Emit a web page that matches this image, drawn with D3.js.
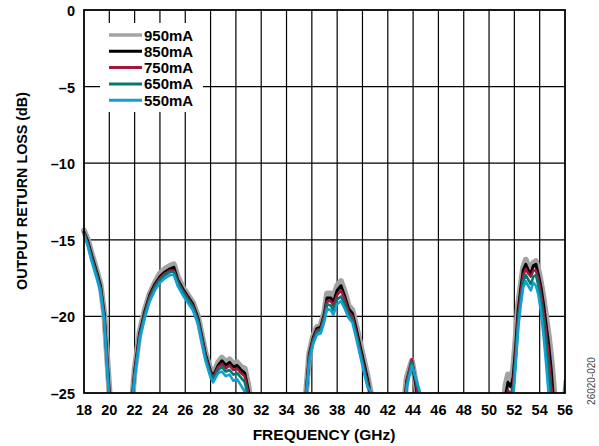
<!DOCTYPE html>
<html>
<head>
<meta charset="utf-8">
<script src="https://cdn.jsdelivr.net/npm/d3@7"></script>
<style>
  body { margin: 0; background: #fff; }
  svg text { font-family: Arial, "Liberation Sans", Helvetica, sans-serif; font-weight: bold; }
</style>
</head>
<body>
<div id="grafico"></div>
<script>
// dati (null = interruzione della curva)
const frequenze = [
  18, 18.3, 18.6, 19.0, 19.3, 19.6, 19.8, 20.0, 20.15, null,
  21.7, 22.0, 22.4, 22.8, 23.2, 23.6, 24.0, 24.4, 24.8, 25.1, 25.4, 25.8, 26.2, 26.6, 27.0, 27.3, 27.6, 28.0, 28.2, 28.6, 28.9, 29.2, 29.5, 29.8, 30.1, 30.4, 30.7, 31.0, 31.3, null,
  35.4, 35.8, 36.1, 36.4, 36.7, 37.0, 37.2, 37.5, 37.7, 38.0, 38.3, 38.6, 38.9, 39.2, 39.5, 39.8, 40.1, 40.4, 40.7, 41.0, null,
  43.2, 43.5, 43.9, 44.2, 44.5, 44.8, null,
  51.1, 51.3, 51.5, 51.7, 51.9, 52.1, 52.3, 52.5, 52.7, 52.9, 53.1, 53.3, 53.5, 53.7, 53.9, 54.1, 54.3, 54.5, 54.7, 54.9, 55.1, 55.3, null,
  55.6, 55.85, 56.0
];

const rl950 = [
  -14.4, -15.0, -15.9, -17.0, -17.9, -19.8, -22.3, -24.8, -26.5, null,
  -26.5, -23.5, -21.0, -19.6, -18.5, -17.8, -17.2, -16.9, -16.7, -16.6, -17.4, -18.1, -18.6, -19.1, -20.0, -21.2, -22.4, -23.5, -23.8, -23.0, -22.7, -23.0, -22.8, -23.1, -23.0, -23.3, -23.4, -24.6, -26.5, null,
  -26.5, -22.4, -21.3, -20.7, -20.6, -19.7, -18.5, -18.5, -18.8, -18.0, -17.7, -18.4, -19.3, -19.6, -20.6, -21.7, -22.8, -23.9, -25.2, -26.5, null,
  -26.5, -24.0, -22.9, -24.3, -26.0, -27.0, null,
  -26.5, -24.5, -23.8, -24.0, -23.5, -21.5, -19.2, -18.0, -16.8, -16.3, -16.7, -16.9, -16.5, -16.4, -17.0, -17.8, -18.8, -20.0, -21.2, -22.6, -24.5, -26.5, null,
  -27.0, -26.0, -25.3
];
const rl850 = [
  -14.5, -15.1, -16.0, -17.1, -18.0, -19.9, -22.5, -25.0, -26.5, null,
  -26.5, -23.6, -21.1, -19.7, -18.6, -17.9, -17.4, -17.1, -16.9, -16.8, -17.6, -18.2, -18.7, -19.2, -20.1, -21.3, -22.5, -23.6, -23.9, -23.2, -22.9, -23.2, -23.0, -23.3, -23.2, -23.5, -23.7, -24.9, -26.5, null,
  -26.5, -22.5, -21.4, -20.8, -20.7, -19.8, -18.8, -18.8, -19.1, -18.3, -18.0, -18.7, -19.5, -19.8, -20.8, -21.9, -23.0, -24.1, -25.4, -26.5, null,
  -27.0, -24.2, -23.0, -24.4, -26.0, -27.0, null,
  -27.0, -25.2, -24.3, -24.6, -24.0, -22.0, -19.6, -18.2, -17.0, -16.6, -17.0, -17.2, -16.7, -16.6, -17.3, -18.1, -19.2, -20.5, -21.8, -23.4, -25.5, -27.0, null,
  -27.0, -26.0, -25.5
];
const rl750 = [
  -14.5, -15.2, -16.1, -17.2, -18.1, -20.0, -22.6, -25.1, -26.5, null,
  -26.5, -23.7, -21.2, -19.8, -18.7, -18.0, -17.5, -17.2, -17.0, -17.0, -17.7, -18.3, -18.8, -19.3, -20.2, -21.4, -22.6, -23.7, -24.0, -23.3, -23.1, -23.4, -23.2, -23.5, -23.4, -23.7, -23.9, -25.1, -26.5, null,
  -26.5, -22.6, -21.5, -20.9, -20.8, -19.9, -19.0, -19.0, -19.3, -18.6, -18.3, -18.9, -19.7, -20.0, -21.0, -22.1, -23.2, -24.3, -25.6, -26.5, null,
  -27.0, -24.2, -22.8, -24.2, -25.8, -27.0, null,
  -27.0, -26.0, -24.8, -25.2, -24.5, -22.4, -20.0, -18.5, -17.3, -16.9, -17.2, -17.4, -17.0, -17.0, -17.6, -18.5, -19.7, -21.0, -22.5, -24.3, -26.5, -27.0, null,
  -27.0, -26.0, -25.6
];
const rl650 = [
  -14.6, -15.3, -16.2, -17.3, -18.2, -20.1, -22.8, -25.3, -26.5, null,
  -26.5, -23.8, -21.3, -19.9, -18.8, -18.1, -17.6, -17.3, -17.1, -17.1, -17.8, -18.4, -18.9, -19.4, -20.3, -21.5, -22.7, -23.8, -24.1, -23.5, -23.3, -23.6, -23.5, -23.8, -23.7, -24.0, -24.3, -25.4, -26.5, null,
  -26.5, -22.7, -21.6, -21.0, -20.9, -20.1, -19.2, -19.3, -19.6, -18.9, -18.7, -19.2, -19.9, -20.2, -21.2, -22.3, -23.4, -24.5, -25.0, -26.5, null,
  -27.0, -24.4, -23.0, -24.1, -25.0, -27.0, null,
  -27.0, -27.0, -25.5, -26.0, -25.0, -22.8, -20.3, -18.9, -17.7, -17.3, -17.6, -17.9, -17.4, -17.3, -18.0, -19.0, -20.3, -21.8, -23.5, -25.5, -27.0, -27.0, null,
  -27.0, -26.0, -25.4
];
const rl550 = [
  -14.7, -15.4, -16.4, -17.5, -18.4, -20.3, -23.0, -25.5, -26.5, null,
  -26.5, -24.0, -21.5, -20.1, -19.0, -18.3, -17.8, -17.5, -17.3, -17.3, -18.0, -18.6, -19.1, -19.6, -20.5, -21.7, -22.9, -24.0, -24.3, -23.7, -23.6, -23.9, -23.8, -24.2, -24.1, -24.5, -24.9, -26.0, -26.5, null,
  -26.5, -22.9, -21.8, -21.2, -21.1, -20.3, -19.5, -19.6, -19.9, -19.2, -19.0, -19.5, -20.1, -20.4, -21.4, -22.5, -23.6, -24.6, -24.9, -26.5, null,
  -27.0, -24.6, -23.2, -24.0, -24.8, -26.0, null,
  -27.0, -27.0, -26.0, -26.5, -25.5, -23.2, -20.8, -19.3, -18.1, -17.7, -18.0, -18.3, -17.8, -18.0, -18.6, -19.7, -21.2, -23.0, -25.0, -27.0, -27.0, -27.0, null,
  -27.0, -25.5, -24.2
];

const serieNomi = ["950mA", "850mA", "750mA", "650mA", "550mA"];
const serieValori = [rl950, rl850, rl750, rl650, rl550];
const serieColori = ["#a3a3a3", "#000000", "#a3173f", "#007a6c", "#149fd3"];
const serieSpessori = [6, 3, 2.6, 2.6, 2.6];

const xTicks = d3.range(18, 57, 2);
const yTicks = [0, -5, -10, -15, -20, -25];

// dimensioni
const W = 599, H = 446;
const margin = { left: 84, right: 34, top: 10, bottom: 53 };

const svg = d3.select("#grafico").append("svg")
  .attr("width", W).attr("height", H);

const x = d3.scaleLinear().domain([18, 56]).range([margin.left, W - margin.right]);
const y = d3.scaleLinear().domain([-25, 0]).range([H - margin.bottom, margin.top]);

// griglia
const griglia = svg.append("g").attr("stroke", "#000").attr("stroke-width", 1.2);
griglia.selectAll(".gv").data(xTicks.slice(1, -1)).enter().append("line")
  .attr("x1", d => x(d)).attr("x2", d => x(d))
  .attr("y1", y(0)).attr("y2", y(-25));
griglia.selectAll(".gh").data(yTicks.slice(1, -1)).enter().append("line")
  .attr("x1", x(18)).attr("x2", x(56))
  .attr("y1", d => y(d)).attr("y2", d => y(d));

// riquadro bianco della legenda
svg.append("rect")
  .attr("x", 100).attr("y", 23).attr("width", 103).attr("height", 89)
  .attr("fill", "#fff");

// curve
svg.append("clipPath").attr("id", "clip")
  .append("rect")
  .attr("x", x(18) - 4).attr("y", y(0))
  .attr("width", x(56) - x(18) + 4).attr("height", y(-25) - y(0));

const linea = d3.line()
  .defined(d => d.f != null && d.v != null)
  .x(d => x(d.f))
  .y(d => y(d.v));

const curve = svg.append("g").attr("clip-path", "url(#clip)");
serieValori.forEach((valori, i) => {
  let punti = frequenze.map((f, k) => ({ f: f, v: valori[k] }));
  curve.append("path")
    .datum(punti)
    .attr("d", linea)
    .attr("fill", "none")
    .attr("stroke", serieColori[i])
    .attr("stroke-width", serieSpessori[i])
    .attr("stroke-linejoin", "round")
    .attr("stroke-linecap", "round");
});

// cornice
svg.append("rect")
  .attr("x", x(18)).attr("y", y(0))
  .attr("width", x(56) - x(18)).attr("height", y(-25) - y(0))
  .attr("fill", "none").attr("stroke", "#000").attr("stroke-width", 1.8);

// etichette assi
svg.append("g").selectAll("text").data(xTicks).enter().append("text")
  .attr("x", d => x(d)).attr("y", 415)
  .attr("text-anchor", "middle").attr("font-size", 14.5)
  .text(d => d);

svg.append("g").selectAll("text").data(yTicks).enter().append("text")
  .attr("x", 75).attr("y", d => y(d) + 6)
  .attr("text-anchor", "end").attr("font-size", 14.5)
  .text(d => d === 0 ? "0" : "\u2013" + Math.abs(d));

svg.append("text")
  .attr("x", 324).attr("y", 440)
  .attr("text-anchor", "middle").attr("font-size", 15.5)
  .text("FREQUENCY (GHz)");

svg.append("text")
  .attr("transform", `translate(26.5, 191) rotate(-90)`)
  .attr("text-anchor", "middle").attr("font-size", 14.3)
  .text("OUTPUT RETURN LOSS (dB)");

svg.append("text")
  .attr("transform", `translate(595, 381) rotate(-90)`)
  .attr("text-anchor", "middle").attr("font-size", 10)
  .style("font-weight", "normal").attr("fill", "#444")
  .text("26020-020");

// legenda
const legenda = svg.append("g");
serieNomi.forEach((nome, i) => {
  let ly = 35 + i * 16.3;
  legenda.append("line")
    .attr("x1", 109).attr("x2", 142).attr("y1", ly).attr("y2", ly)
    .attr("stroke", serieColori[i]).attr("stroke-width", i === 0 ? 3.5 : 3);
  legenda.append("text")
    .attr("x", 144).attr("y", ly + 5.5)
    .attr("font-size", 15)
    .text(nome);
});
</script>
</body>
</html>
